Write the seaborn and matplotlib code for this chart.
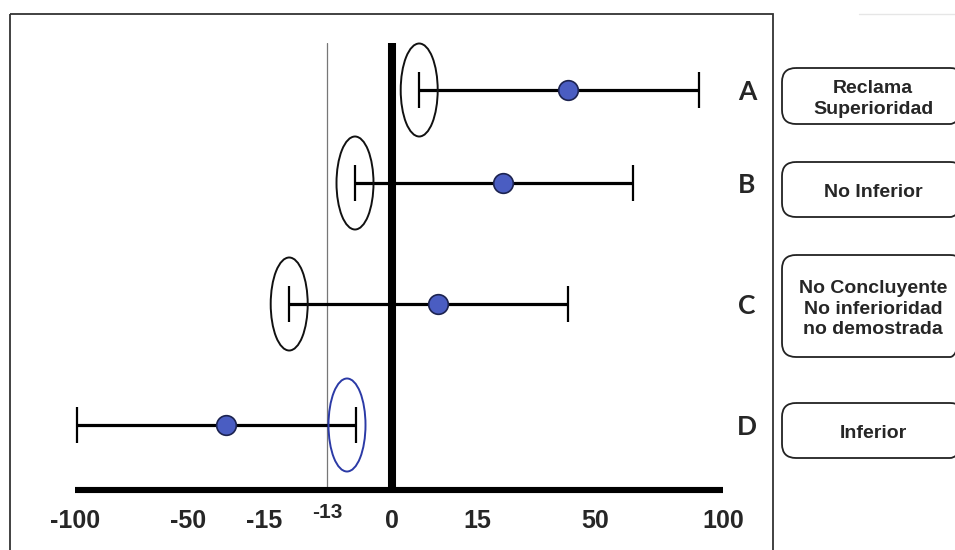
import numpy as np
import matplotlib
matplotlib.use("Agg")
import matplotlib.pyplot as plt
import seaborn as sns
import pandas as pd
from matplotlib.patches import Ellipse, FancyBboxPatch, Rectangle

# ---------------- data ----------------
trials = ["A", "B", "C", "D"]
estimate = [42.0, 22.7, 8.1, -32.5]
ci_low = [4.8, -7.4, -14.2, -99.0]
ci_high = [90.6, 64.8, 42.0, -7.2]
highlighted_limit = ["low", "low", "low", "high"]
margin = -13
tick_values = [-100, -50, -15, 0, 15, 50, 100]
tick_labels = ["-100", "-50", "-15", "0", "15", "50", "100"]
margin_label = "-13"
verdicts = ["Reclama\nSuperioridad", "No Inferior",
            "No Concluyente\nNo inferioridad\nno demostrada", "Inferior"]

# ---------------- layout (schematic axis, pixels) ----------------
scale_values = [-100, -50, -15, -13, 0, 15, 50, 100]
scale_px = [75, 188, 264, 327, 392, 477, 595, 723]
row_px = [90, 183, 304, 425]
box_top = [68, 162, 255, 403]
box_bottom = [124, 217, 357, 458]
ellipse_dx = [0, 0, 0, -9]
ellipse_color = ["#111111", "#111111", "#111111", "#2b3aa6"]

W, H = 955, 550
sns.set_style("white")
plt.rcParams["font.family"] = ["Liberation Sans", "DejaVu Sans"]

fig = plt.figure(figsize=(W / 100, H / 100), dpi=100)
ax_top, ax_bot = 43, 490
ax = fig.add_axes([scale_px[0] / W, 1 - ax_bot / H,
                   (scale_px[-1] - scale_px[0]) / W, (ax_bot - ax_top) / H])
ax.set_facecolor("none")


def fwd(x):
    return np.interp(x, scale_values, scale_px)


def inv(p):
    return np.interp(p, scale_px, scale_values)


ax.set_xscale("function", functions=(fwd, inv))
ax.set_xlim(scale_values[0], scale_values[-1])
ax.set_ylim(ax_bot, ax_top)

# reference lines
ax.axvline(0, color="black", lw=5.8, solid_capstyle="butt", zorder=2)
ax.axvline(margin, color="#777777", lw=0.9, zorder=1)

# confidence intervals
est = np.array(estimate)
ax.errorbar(est, row_px,
            xerr=[est - np.array(ci_low), np.array(ci_high) - est],
            fmt="none", ecolor="black", elinewidth=2.3,
            capsize=13, capthick=1.6, zorder=3)

df = pd.DataFrame({"trial": trials, "estimate": estimate, "row": row_px})
sns.scatterplot(data=df, x="estimate", y="row", ax=ax, s=200,
                color="#4a5dc2", edgecolor="#1c2350", linewidth=1.2,
                zorder=5, legend=False)

# axes styling
for s in ["top", "left", "right"]:
    ax.spines[s].set_visible(False)
ax.spines["bottom"].set_linewidth(4.4)
ax.spines["bottom"].set_color("black")
ax.spines["bottom"].set_capstyle("butt")
ax.set_yticks([])
ax.set_xticks(tick_values, tick_labels)
ax.tick_params(axis="x", length=0, pad=14, labelsize=18)
for lbl in ax.get_xticklabels():
    lbl.set_fontweight("bold")
ax.set_xlabel("")
ax.set_ylabel("")
ax.annotate(margin_label, xy=(margin, 0), xycoords=("data", "axes fraction"),
            xytext=(0, -9), textcoords="offset points", ha="center", va="top",
            fontsize=15, fontweight="bold")

# overlay in pixel coordinates
ov = fig.add_axes([0, 0, 1, 1])
ov.set_xlim(0, W)
ov.set_ylim(H, 0)
ov.axis("off")
ov.patch.set_visible(False)

# frame
ov.add_patch(Rectangle((10, 14), 763, 560, fill=False, lw=1.3,
                       ec="#333333", clip_on=False))
ov.plot([859, 955], [14, 14], color="#e6e6e6", lw=1)

# ellipses around the limit closest to the margin
for lo, hi, which, r, dx, c in zip(ci_low, ci_high, highlighted_limit,
                                   row_px, ellipse_dx, ellipse_color):
    xv = lo if which == "low" else hi
    p = ax.transData.transform((xv, r))
    x, y = ov.transData.inverted().transform(p)
    ov.add_patch(Ellipse((x + dx, y), 37, 93, fill=False, ec=c, lw=1.4))

# row letters
for t, r in zip(trials, row_px):
    ov.text(747, r + 2, t, ha="center", va="center", fontsize=19,
            fontweight="bold", family=["Lato", "DejaVu Sans"])

# verdict boxes
for txt, t0, t1 in zip(verdicts, box_top, box_bottom):
    ov.add_patch(FancyBboxPatch((782, t0), 182, t1 - t0,
                                boxstyle="round,pad=0,rounding_size=14",
                                fill=False, ec="#222222", lw=1.3,
                                clip_on=False))
    ov.text(873, (t0 + t1) / 2 + 3, txt, ha="center", va="center",
            fontsize=14, fontweight="bold", linespacing=1.25)

fig.savefig("out.png", dpi=100)
